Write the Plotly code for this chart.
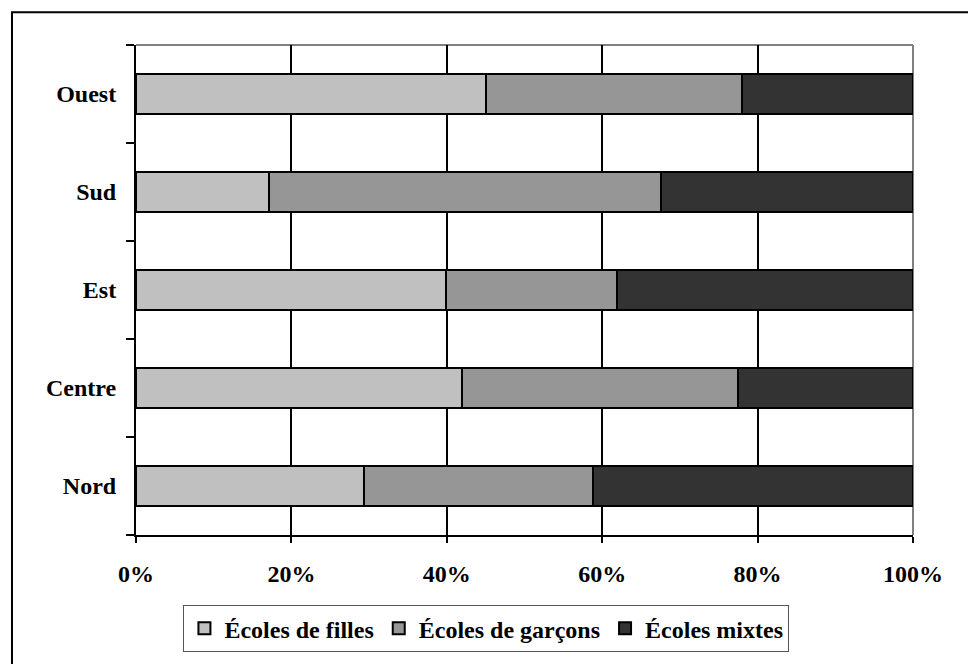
import plotly.graph_objects as go

regions = ["Nord", "Centre", "Est", "Sud", "Ouest"]
filles = [29.4, 41.9, 39.9, 17.1, 45.0]
garcons = [29.4, 35.6, 22.0, 50.5, 33.0]
mixtes = [41.2, 22.5, 38.1, 32.4, 22.0]
series_names = ["Écoles de filles", "Écoles de garçons", "Écoles mixtes"]
series_colors = ["#C0C0C0", "#969696", "#333333"]
x_ticks = [0, 20, 40, 60, 80, 100]
x_labels = ["0%", "20%", "40%", "60%", "80%", "100%"]

FONT = "Liberation Serif, Times New Roman, serif"
FS = 24

fig = go.Figure()
for name, vals, col in zip(series_names, [filles, garcons, mixtes], series_colors):
    fig.add_trace(go.Bar(
        y=regions, x=vals, name=name, orientation="h",
        marker=dict(color=col, line=dict(color="#000000", width=2)),
    ))

fig.update_layout(
    width=968, height=656,
    margin=dict(l=128, r=63, t=37, b=127),
    barmode="stack", bargap=0.59,
    plot_bgcolor="white", paper_bgcolor="white",
    font=dict(family=FONT, size=FS, color="black"),
    showlegend=True,
    legend=dict(
        orientation="h", x=0.451, y=-0.191, xanchor="center", yanchor="middle",
        bordercolor="#555555", borderwidth=1, bgcolor="white",
        font=dict(family=FONT, size=FS, color="black", weight="bold"),
        traceorder="normal", itemwidth=30,
    ),
    xaxis=dict(
        range=[0, 100], tickvals=x_ticks, ticktext=x_labels,
        showgrid=True, gridcolor="black", gridwidth=2,
        showline=True, linecolor="black", linewidth=2,
        ticks="outside", ticklen=6, tickwidth=2, tickcolor="black",
        ticklabelstandoff=10,
        tickfont=dict(family=FONT, size=FS, color="black", weight="bold"),
        zeroline=False, fixedrange=True,
    ),
    yaxis=dict(
        showgrid=False, showline=True, linecolor="black", linewidth=2,
        ticks="outside", ticklen=8, tickwidth=2, tickcolor="black",
        tickson="boundaries", ticklabelstandoff=13,
        tickfont=dict(family=FONT, size=FS, color="black", weight="bold"),
        fixedrange=True,
    ),
    shapes=[
        dict(type="line", xref="paper", yref="paper", x0=0, x1=1, y0=1, y1=1,
             line=dict(color="#808080", width=2), layer="between"),
        dict(type="line", xref="paper", yref="paper", x0=1, x1=1, y0=0, y1=1,
             line=dict(color="#808080", width=2), layer="between"),
        dict(type="rect", xref="paper", yref="paper",
             x0=-0.1596, x1=1.12, y0=-0.30, y1=1.067,
             line=dict(color="black", width=2), layer="below"),
    ],
)

fig.write_html("out.html")
